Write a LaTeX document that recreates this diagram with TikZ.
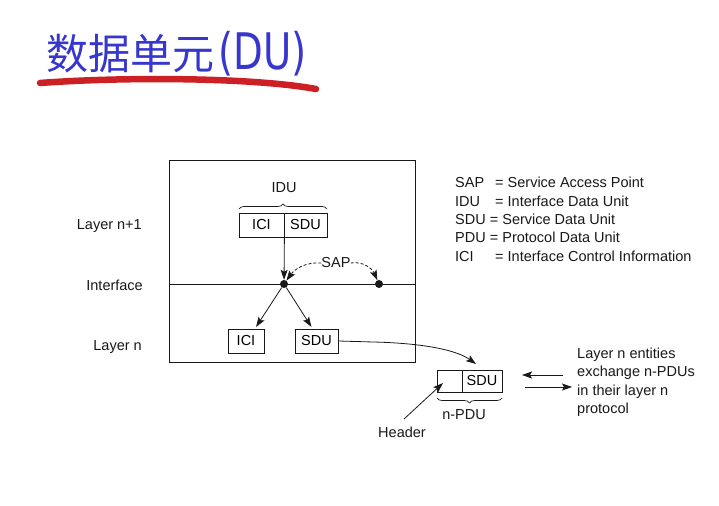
\documentclass[tikz,border=0pt]{standalone}
\usepackage{fontspec}
\setmainfont{Liberation Sans}
\newfontfamily\cjkfont{Noto Sans CJK SC}
\newfontfamily\titlelatin{DejaVu Sans}
\usetikzlibrary{arrows.meta,decorations.pathreplacing,calc}
\definecolor{titleblue}{RGB}{55,55,205}
\definecolor{brushred}{RGB}{205,32,36}
\definecolor{ink}{RGB}{25,25,25}
\begin{document}
\begin{tikzpicture}[x=1bp,y=-1bp,
  font=\fontsize{14.5bp}{17bp}\selectfont,
  box/.style={draw=ink, line width=0.8bp, minimum height=24bp, inner sep=0pt},
  arr/.style={-{Stealth[length=10bp,width=7bp,inset=2bp]}, draw=ink, line width=0.8bp},
  dotnode/.style={circle, fill=ink, inner sep=0pt, minimum size=8bp},
  lbl/.style={inner sep=0pt, text=ink},
  brc/.style={draw=ink, line width=0.7bp, decorate, decoration={brace, amplitude=5bp}},
  dashedarr/.style={arr, dash pattern=on 3bp off 2bp}
]
\useasboundingbox (0,0) rectangle (719,506);
\fill[white] (0,0) rectangle (719,506);

% title
\node[anchor=base west, inner sep=0pt, text=titleblue,
      font=\cjkfont\fontsize{42bp}{48bp}\selectfont] (title) at (46,70)
      {数据单元\hspace{4bp}\scalebox{0.92}[1.2]{\titlelatin (DU)}};
\draw[brushred, line width=6.5bp, line cap=round] (40,83) .. controls (120,77) and (250,77) .. (316,89);

% main box and interface line
\node[draw=ink, line width=0.8bp, minimum width=246bp, minimum height=202bp, inner sep=0pt] (main) at (292,261) {};
\coordinate (ifl) at (169,284);
\coordinate (ifr) at (415,284);
\draw[ink, line width=0.8bp] (ifl) -- (ifr);

% left labels
\node[lbl, anchor=base east] (ln1) at (142,230) {Layer n+1};
\node[lbl, anchor=base east] (lif) at (143,290) {Interface};
\node[lbl, anchor=base east] (ln) at (142,350) {Layer n};

% IDU
\node[box, minimum width=45bp] (idci) at (261.5,225) {ICI};
\node[box, minimum width=43bp] (idsdu) at (305.5,225) {SDU};
\coordinate (bl) at (239,209);
\coordinate (br) at (327,209);
\draw[brc] (bl) -- (br);
\node[lbl, anchor=base] (idu) at (284,193) {IDU};

% dots and SAP
\node[dotnode] (d1) at (284,284) {};
\node[dotnode] (d2) at (379,284) {};
\draw[arr] (idci.south east) -- (d1);
\node[lbl, anchor=base] (sap) at (336,268) {SAP};
\draw[dashedarr] (sap.west) .. controls (304,262) and (294,270) .. (d1);
\draw[dashedarr] (sap.east) .. controls (362,261) and (372,268) .. (d2);

% lower boxes
\node[box, minimum width=36bp] (lici) at (246,341) {ICI};
\node[box, minimum width=43bp] (lsdu) at (316.5,341) {SDU};
\draw[arr, shorten >=2bp] (d1) -- ([xshift=9bp]lici.north);
\draw[arr, shorten >=2bp] (d1) -- ([xshift=-4bp]lsdu.north);

% n-PDU
\node[box, minimum width=25bp, minimum height=22bp] (nh) at (449.5,381) {};
\node[box, minimum width=40bp, minimum height=22bp] (ns) at (482,381) {SDU};
\coordinate (ctip) at (476,364);
\coordinate (cmid) at (373,342);
\draw[arr] (lsdu.east) -- (cmid) .. controls (418,343) and (455,349) .. (ctip);
\coordinate (pl) at (437,398);
\coordinate (pr) at (502,398);
\draw[brc] (pr) -- (pl);
\node[lbl, anchor=base] (npdu) at (464,419) {n-PDU};
\node[lbl, anchor=base] (hdr) at (402,437) {Header};
\coordinate (hs) at (404,419);
\coordinate (ht) at (443,383);
\draw[arr] (hs) -- (ht);

% exchange
\coordinate (e1s) at (563,375);
\coordinate (e1t) at (522,375);
\coordinate (e2s) at (525,387);
\coordinate (e2t) at (572,387);
\draw[arr] (e1s) -- (e1t);
\draw[arr] (e2s) -- (e2t);
\node[lbl, anchor=base west] (ex1) at (577,358) {Layer n entities};
\node[lbl, anchor=base west] (ex2) at (577,376.5) {exchange n-PDUs};
\node[lbl, anchor=base west] (ex3) at (577,395) {in their layer n};
\node[lbl, anchor=base west] (ex4) at (577,413.5) {protocol};

% legend
\node[lbl, anchor=base west] (lg1) at (455,188) {\makebox[40bp][l]{SAP}= Service Access Point};
\node[lbl, anchor=base west] (lg2) at (455,206.3) {\makebox[40bp][l]{IDU}= Interface Data Unit};
\node[lbl, anchor=base west] (lg3) at (455,224.6) {SDU = Service Data Unit};
\node[lbl, anchor=base west] (lg4) at (455,242.9) {PDU = Protocol Data Unit};
\node[lbl, anchor=base west] (lg5) at (455,261.2) {\makebox[40bp][l]{ICI}= Interface Control Information};
\end{tikzpicture}
\end{document}
